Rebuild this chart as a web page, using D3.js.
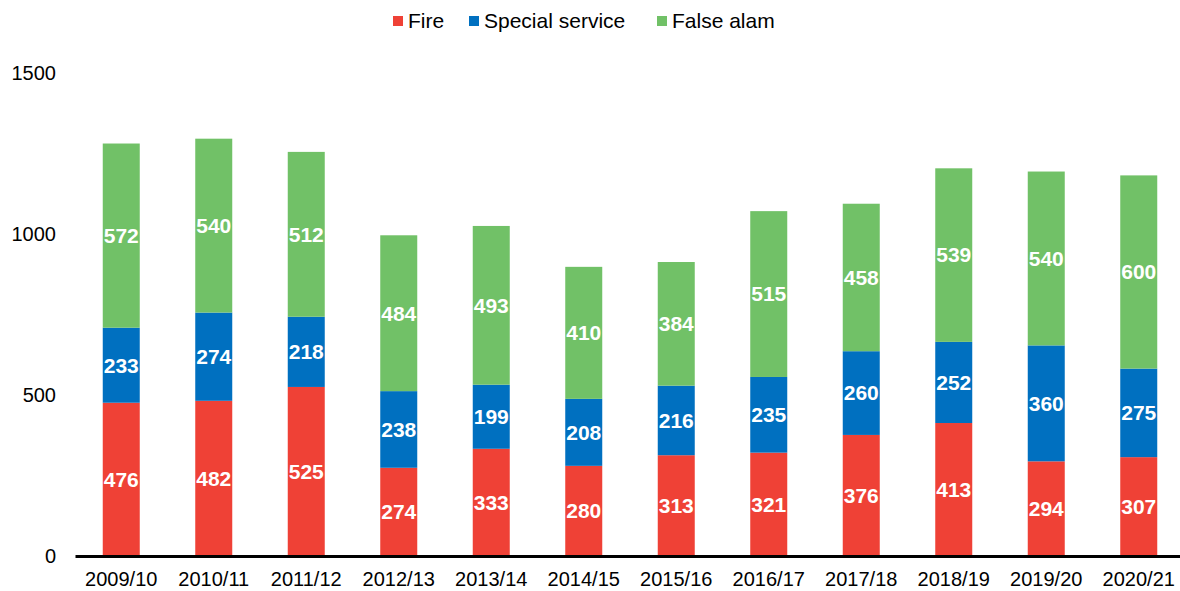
<!DOCTYPE html>
<html>
<head>
<meta charset="utf-8">
<script src="https://cdn.jsdelivr.net/npm/d3@7"></script>
<style>
  body { margin: 0; background: #fff; }
  svg { font-family: "Liberation Sans", Arial, sans-serif; }
</style>
</head>
<body>
<svg id="chart" width="1180" height="591"></svg>
<script>
var years = ["2009/10", "2010/11", "2011/12", "2012/13", "2013/14", "2014/15",
             "2015/16", "2016/17", "2017/18", "2018/19", "2019/20", "2020/21"];
var fire = [476, 482, 525, 274, 333, 280, 313, 321, 376, 413, 294, 307];
var special = [233, 274, 218, 238, 199, 208, 216, 235, 260, 252, 360, 275];
var falseAlarm = [572, 540, 512, 484, 493, 410, 384, 515, 458, 539, 540, 600];
var seriesNames = ["Fire", "Special service", "False alam"];
var yTicks = [0, 500, 1000, 1500];

var colors = ["#EF4136", "#0070C0", "#71C167"];

var svg = d3.select("#chart");

var rows = years.map(function(y, i) {
    return {year: y, "Fire": fire[i], "Special service": special[i], "False alam": falseAlarm[i]};
});

var x = d3.scaleBand()
    .domain(years)
    .range([75, 1185])
    .paddingInner(0.6)
    .paddingOuter(0.3);

var y = d3.scaleLinear()
    .domain([0, 1500])
    .range([556, 73]);

var z = d3.scaleOrdinal().domain(seriesNames).range(colors);

var stack = d3.stack().keys(seriesNames)(rows);

var g = svg.append("g");

var serie = g.selectAll(".serie")
    .data(stack)
    .enter().append("g")
    .attr("class", "serie")
    .attr("fill", function(d) { return z(d.key); });

serie.selectAll("rect")
    .data(function(d) { return d; })
    .enter().append("rect")
    .attr("x", function(d) { return x(d.data.year); })
    .attr("y", function(d) { return y(d[1]); })
    .attr("width", x.bandwidth())
    .attr("height", function(d) { return y(d[0]) - y(d[1]); });

// value labels
serie.selectAll("text")
    .data(function(d) { return d.map(function(p) { return {p: p, key: d.key}; }); })
    .enter().append("text")
    .attr("x", function(d) { return x(d.p.data.year) + x.bandwidth() / 2; })
    .attr("y", function(d) { return (y(d.p[0]) + y(d.p[1])) / 2; })
    .attr("dy", "0.35em")
    .attr("text-anchor", "middle")
    .attr("fill", "#fff")
    .style("font-size", "21px")
    .style("font-weight", "bold")
    .text(function(d) { return d.p.data[d.key]; });

// x axis
var xAxis = g.append("g")
    .attr("transform", "translate(0,556)")
    .call(d3.axisBottom(x).tickSize(0).tickPadding(16));
xAxis.select(".domain").attr("stroke", "#000").attr("stroke-width", 3);
xAxis.selectAll("text").style("font-size", "20px").attr("fill", "#000");

// y axis labels only
g.selectAll(".ytick")
    .data(yTicks)
    .enter().append("text")
    .attr("class", "ytick")
    .attr("x", 56)
    .attr("y", function(d) { return y(d); })
    .attr("dy", "0.35em")
    .attr("text-anchor", "end")
    .style("font-size", "20px")
    .attr("fill", "#000")
    .text(function(d) { return d; });

// legend
var legendX = [393, 469, 657];
var legend = svg.selectAll(".legend")
    .data(seriesNames)
    .enter().append("g")
    .attr("class", "legend")
    .attr("transform", function(d, i) { return "translate(" + legendX[i] + ",21)"; });

legend.append("rect")
    .attr("x", 0)
    .attr("y", -5)
    .attr("width", 10)
    .attr("height", 10)
    .attr("fill", z);

legend.append("text")
    .attr("x", 15)
    .attr("dy", "0.35em")
    .style("font-size", "21px")
    .attr("fill", "#000")
    .text(function(d) { return d; });
</script>
</body>
</html>
